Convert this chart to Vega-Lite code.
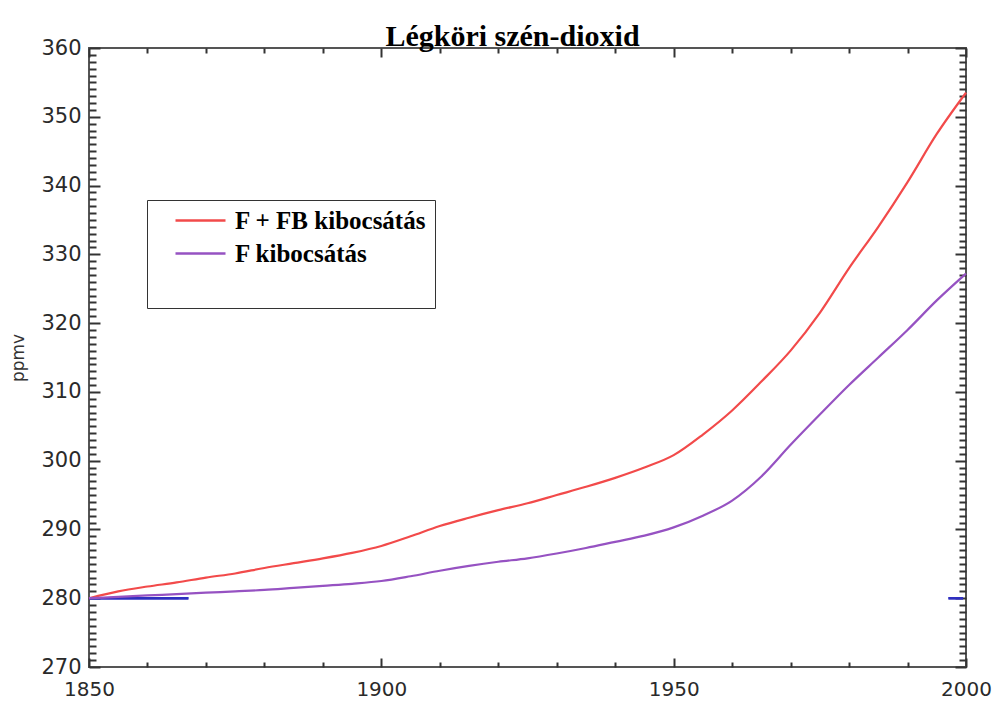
{
  "$schema": "https://vega.github.io/schema/vega-lite/v6.json",
  "width": 877,
  "height": 619,
  "autosize": {"type": "none"},
  "padding": {"left": 89, "top": 48, "right": 28, "bottom": 35},
  "background": "white",
  "title": {
    "text": "Légköri szén-dioxid",
    "font": "Liberation Serif",
    "fontSize": 30,
    "fontWeight": "bold",
    "color": "#000000",
    "anchor": "middle",
    "baseline": "alphabetic",
    "dx": -15,
    "dy": 39,
    "offset": 0
  },
  "config": {
    "view": {"stroke": "#555555", "strokeWidth": 2},
    "axis": {"domainColor": "#555555", "domainWidth": 2, "tickColor": "#333333", "tickWidth": 2, "grid": false}
  },
  "datasets": {
    "co2": [
      {"year": 1850, "ppm": 280.0, "series": "F + FB kibocsátás"},
      {"year": 1855, "ppm": 281.0, "series": "F + FB kibocsátás"},
      {"year": 1860, "ppm": 281.7, "series": "F + FB kibocsátás"},
      {"year": 1865, "ppm": 282.3, "series": "F + FB kibocsátás"},
      {"year": 1870, "ppm": 283.0, "series": "F + FB kibocsátás"},
      {"year": 1875, "ppm": 283.6, "series": "F + FB kibocsátás"},
      {"year": 1880, "ppm": 284.4, "series": "F + FB kibocsátás"},
      {"year": 1885, "ppm": 285.1, "series": "F + FB kibocsátás"},
      {"year": 1890, "ppm": 285.8, "series": "F + FB kibocsátás"},
      {"year": 1895, "ppm": 286.6, "series": "F + FB kibocsátás"},
      {"year": 1900, "ppm": 287.6, "series": "F + FB kibocsátás"},
      {"year": 1905, "ppm": 289.0, "series": "F + FB kibocsátás"},
      {"year": 1910, "ppm": 290.5, "series": "F + FB kibocsátás"},
      {"year": 1915, "ppm": 291.7, "series": "F + FB kibocsátás"},
      {"year": 1920, "ppm": 292.8, "series": "F + FB kibocsátás"},
      {"year": 1925, "ppm": 293.8, "series": "F + FB kibocsátás"},
      {"year": 1930, "ppm": 295.0, "series": "F + FB kibocsátás"},
      {"year": 1935, "ppm": 296.2, "series": "F + FB kibocsátás"},
      {"year": 1940, "ppm": 297.5, "series": "F + FB kibocsátás"},
      {"year": 1945, "ppm": 299.0, "series": "F + FB kibocsátás"},
      {"year": 1950, "ppm": 300.8, "series": "F + FB kibocsátás"},
      {"year": 1955, "ppm": 303.8, "series": "F + FB kibocsátás"},
      {"year": 1960, "ppm": 307.3, "series": "F + FB kibocsátás"},
      {"year": 1965, "ppm": 311.5, "series": "F + FB kibocsátás"},
      {"year": 1970, "ppm": 316.0, "series": "F + FB kibocsátás"},
      {"year": 1975, "ppm": 321.5, "series": "F + FB kibocsátás"},
      {"year": 1980, "ppm": 328.0, "series": "F + FB kibocsátás"},
      {"year": 1985, "ppm": 334.0, "series": "F + FB kibocsátás"},
      {"year": 1990, "ppm": 340.5, "series": "F + FB kibocsátás"},
      {"year": 1995, "ppm": 347.5, "series": "F + FB kibocsátás"},
      {"year": 2000, "ppm": 353.5, "series": "F + FB kibocsátás"},
      {"year": 1850, "ppm": 280.0, "series": "F kibocsátás"},
      {"year": 1855, "ppm": 280.2, "series": "F kibocsátás"},
      {"year": 1860, "ppm": 280.4, "series": "F kibocsátás"},
      {"year": 1865, "ppm": 280.6, "series": "F kibocsátás"},
      {"year": 1870, "ppm": 280.8, "series": "F kibocsátás"},
      {"year": 1875, "ppm": 281.0, "series": "F kibocsátás"},
      {"year": 1880, "ppm": 281.2, "series": "F kibocsátás"},
      {"year": 1885, "ppm": 281.5, "series": "F kibocsátás"},
      {"year": 1890, "ppm": 281.8, "series": "F kibocsátás"},
      {"year": 1895, "ppm": 282.1, "series": "F kibocsátás"},
      {"year": 1900, "ppm": 282.5, "series": "F kibocsátás"},
      {"year": 1905, "ppm": 283.2, "series": "F kibocsátás"},
      {"year": 1910, "ppm": 284.0, "series": "F kibocsátás"},
      {"year": 1915, "ppm": 284.7, "series": "F kibocsátás"},
      {"year": 1920, "ppm": 285.3, "series": "F kibocsátás"},
      {"year": 1925, "ppm": 285.8, "series": "F kibocsátás"},
      {"year": 1930, "ppm": 286.5, "series": "F kibocsátás"},
      {"year": 1935, "ppm": 287.3, "series": "F kibocsátás"},
      {"year": 1940, "ppm": 288.2, "series": "F kibocsátás"},
      {"year": 1945, "ppm": 289.1, "series": "F kibocsátás"},
      {"year": 1950, "ppm": 290.3, "series": "F kibocsátás"},
      {"year": 1955, "ppm": 292.0, "series": "F kibocsátás"},
      {"year": 1960, "ppm": 294.2, "series": "F kibocsátás"},
      {"year": 1965, "ppm": 297.7, "series": "F kibocsátás"},
      {"year": 1970, "ppm": 302.3, "series": "F kibocsátás"},
      {"year": 1975, "ppm": 306.7, "series": "F kibocsátás"},
      {"year": 1980, "ppm": 311.0, "series": "F kibocsátás"},
      {"year": 1985, "ppm": 315.0, "series": "F kibocsátás"},
      {"year": 1990, "ppm": 319.0, "series": "F kibocsátás"},
      {"year": 1995, "ppm": 323.3, "series": "F kibocsátás"},
      {"year": 2000, "ppm": 327.2, "series": "F kibocsátás"}
    ],
    "base": [
      {"year": 1850, "ppm": 280, "seg": "a"},
      {"year": 1867, "ppm": 280, "seg": "a"},
      {"year": 1997, "ppm": 280, "seg": "b"},
      {"year": 1999.5, "ppm": 280, "seg": "b"}
    ]
  },
  "layer": [
    {
      "data": {"name": "base"},
      "mark": {"type": "line", "color": "#2f2fc0", "strokeWidth": 2.5},
      "encoding": {
        "x": {"field": "year", "type": "quantitative",
          "scale": {"domain": [1850, 2000], "nice": false, "zero": false},
          "axis": {"orient": "bottom", "title": null, "ticks": false, "domain": false,
            "values": [1850, 1900, 1950, 2000], "format": "d",
            "labelOverlap": false, "labelFlush": false,
            "labelFont": "DejaVu Sans", "labelFontSize": 20, "labelColor": "#2a2a2a",
            "labelPadding": 12}},
        "y": {"field": "ppm", "type": "quantitative",
          "scale": {"domain": [270, 360], "nice": false, "zero": false},
          "axis": {"orient": "left", "title": "ppmv", "ticks": false, "domain": false,
            "titleFont": "DejaVu Sans", "titleFontSize": 17, "titleFontWeight": "normal", "titleColor": "#333333", "titlePadding": 13,
            "values": [270, 280, 290, 300, 310, 320, 330, 340, 350, 360],
            "labelOverlap": false, "labelFlush": false,
            "labelFont": "DejaVu Sans", "labelFontSize": 21, "labelColor": "#2a2a2a",
            "labelPadding": 8}},
        "detail": {"field": "seg"}
      }
    },
    {
      "data": {"name": "base"},
      "mark": {"type": "line", "color": "#2f2fc0", "strokeWidth": 2.5},
      "encoding": {
        "x": {"field": "year", "type": "quantitative",
          "scale": {"domain": [1850, 2000], "nice": false, "zero": false},
          "axis": {"orient": "top", "offset": -619, "title": null, "labels": false, "domain": false,
            "values": [1850,1860,1870,1880,1890,1900,1910,1920,1930,1940,1950,1960,1970,1980,1990,2000],
            "tickSize": {"condition": {"test": "datum.value % 50 === 0", "value": 9}, "value": 5}}},
        "y": {"field": "ppm", "type": "quantitative",
          "scale": {"domain": [270, 360], "nice": false, "zero": false},
          "axis": {"orient": "right", "offset": -877, "title": null, "labels": false, "domain": false,
            "values": [270,271,272,273,274,275,276,277,278,279,280,281,282,283,284,285,286,287,288,289,290,291,292,293,294,295,296,297,298,299,300,301,302,303,304,305,306,307,308,309,310,311,312,313,314,315,316,317,318,319,320,321,322,323,324,325,326,327,328,329,330,331,332,333,334,335,336,337,338,339,340,341,342,343,344,345,346,347,348,349,350,351,352,353,354,355,356,357,358,359,360],
            "tickSize": {"condition": {"test": "datum.value % 10 === 0", "value": 11}, "value": 7}}},
        "detail": {"field": "seg"}
      }
    },
    {
      "data": {"name": "co2"},
      "mark": {"type": "line", "strokeWidth": 2.2, "interpolate": "monotone"},
      "encoding": {
        "x": {"field": "year", "type": "quantitative",
          "scale": {"domain": [1850, 2000], "nice": false, "zero": false},
          "axis": {"orient": "bottom", "offset": -619, "title": null, "labels": false, "domain": false,
            "values": [1850,1860,1870,1880,1890,1900,1910,1920,1930,1940,1950,1960,1970,1980,1990,2000],
            "tickSize": {"condition": {"test": "datum.value % 50 === 0", "value": 9}, "value": 5}}},
        "y": {"field": "ppm", "type": "quantitative",
          "scale": {"domain": [270, 360], "nice": false, "zero": false},
          "axis": {"orient": "left", "offset": -877, "title": null, "labels": false, "domain": false,
            "values": [270,271,272,273,274,275,276,277,278,279,280,281,282,283,284,285,286,287,288,289,290,291,292,293,294,295,296,297,298,299,300,301,302,303,304,305,306,307,308,309,310,311,312,313,314,315,316,317,318,319,320,321,322,323,324,325,326,327,328,329,330,331,332,333,334,335,336,337,338,339,340,341,342,343,344,345,346,347,348,349,350,351,352,353,354,355,356,357,358,359,360],
            "tickSize": {"condition": {"test": "datum.value % 10 === 0", "value": 11}, "value": 7}}},
        "color": {"field": "series", "type": "nominal",
          "scale": {"domain": ["F + FB kibocsátás", "F kibocsátás", " "], "range": ["#f24a4a", "#9652c2", "rgba(255,255,255,0)"]},
          "legend": {
            "title": null, "orient": "none", "legendX": 58, "legendY": 152,
            "fillColor": "white", "strokeColor": "#333333",
            "padding": 8, "symbolOffset": 33,
            "symbolType": "M-2.5,0H2.5", "symbolSize": 400, "symbolStrokeWidth": 2.5,
            "labelFont": "Liberation Serif", "labelFontSize": 25, "labelFontWeight": "bold", "labelColor": "#000000",
            "labelOffset": 22, "rowPadding": 7, "labelLimit": 400
          }}
      }
    }
  ],
  "resolve": {"axis": {"x": "independent", "y": "independent"}}
}
